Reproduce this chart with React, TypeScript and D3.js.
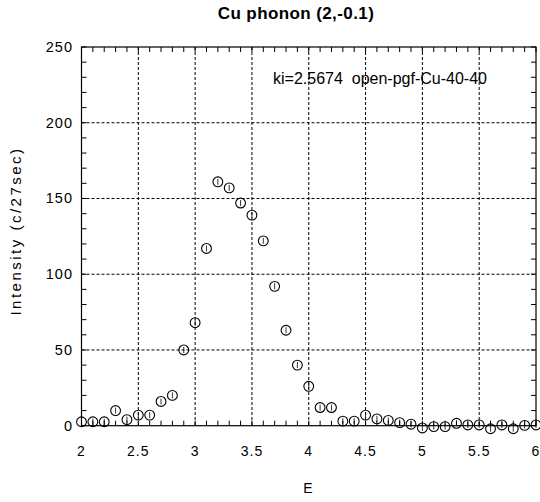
import React from "react";
import * as d3 from "d3";

const energies = [2.0,2.1,2.2,2.3,2.4,2.5,2.6,2.7,2.8,2.9,3.0,3.1,3.2,3.3,3.4,3.5,3.6,3.7,3.8,3.9,4.0,4.1,4.2,4.3,4.4,4.5,4.6,4.7,4.8,4.9,5.0,5.1,5.2,5.3,5.4,5.5,5.6,5.7,5.8,5.9,6.0];
const intensities = [2.6,2.6,2.6,10,4,7,7,16,20,50,68,117,161,157,147,139,122,92,63,40,26,12,12,3,3,7,4.5,3.5,2,1,-1.5,-0.6,-0.6,1.6,0.5,0.5,-2,0.5,-2,0.2,0.5];
const xTicks = [2,2.5,3,3.5,4,4.5,5,5.5,6];
const xTickLabels = ["2","2.5","3","3.5","4","4.5","5","5.5","6"];
const yTicks = [0,50,100,150,200,250];

const W = 540, H = 502;
const left = 81.5, right = 536, top = 47, bottom = 425.7;

export default function App() {
  const x = d3.scaleLinear().domain([2, 6]).range([left, right]);
  const y = d3.scaleLinear().domain([0, 250]).range([bottom, top]);
  const minorX = d3.range(2, 6.0001, 0.1);
  const minorY = d3.range(0, 250.001, 10);
  const font = "'Liberation Sans', Arial, sans-serif";
  return (
    <svg width={W} height={H} style={{ position: "absolute", left: 0, top: 0, background: "#fff" }}>
      <text x={296} y={19} textAnchor="middle" fontFamily={font} fontWeight="bold" fontSize={17} letterSpacing={0.4}>Cu phonon (2,-0.1)</text>
      {/* grid */}
      {xTicks.slice(1, -1).map((t) => (
        <line key={"gx" + t} x1={x(t)} x2={x(t)} y1={top} y2={bottom} stroke="#000" strokeWidth={1} strokeDasharray="3,2" />
      ))}
      {yTicks.slice(1, -1).map((t) => (
        <line key={"gy" + t} x1={left} x2={right} y1={y(t)} y2={y(t)} stroke="#000" strokeWidth={1} strokeDasharray="3,2" />
      ))}
      {/* minor ticks */}
      {minorX.map((t, i) => (
        <g key={"mx" + i}>
          <line x1={x(t)} x2={x(t)} y1={bottom} y2={bottom - 5} stroke="#000" />
          <line x1={x(t)} x2={x(t)} y1={top} y2={top + 5} stroke="#000" />
        </g>
      ))}
      {minorY.map((t, i) => (
        <g key={"my" + i}>
          <line x1={left} x2={left + 5} y1={y(t)} y2={y(t)} stroke="#000" />
          <line x1={right} x2={right - 5} y1={y(t)} y2={y(t)} stroke="#000" />
        </g>
      ))}
      <rect x={left} y={top} width={right - left} height={bottom - top} fill="none" stroke="#000" strokeWidth={1.2} />
      {/* tick labels */}
      {xTicks.map((t, i) => (
        <text key={"xl" + t} x={x(t)} y={456} textAnchor="middle" fontFamily={font} fontSize={14} letterSpacing={1}>{xTickLabels[i]}</text>
      ))}
      {yTicks.map((t) => (
        <text key={"yl" + t} x={73} y={y(t) + 5} textAnchor="end" fontFamily={font} fontSize={14.5} letterSpacing={1}>{t}</text>
      ))}
      <text x={308} y={493} textAnchor="middle" fontFamily={font} fontSize={14}>E</text>
      <text transform={`translate(21,${231}) rotate(-90)`} textAnchor="middle" fontFamily={font} fontSize={15} letterSpacing={2.5}>Intensity (c/27sec)</text>
      <text x={273} y={84} fontFamily={font} fontSize={16} style={{ whiteSpace: "pre" }}>{"ki=2.5674  open-pgf-Cu-40-40"}</text>
      {/* data */}
      {energies.map((e, i) => (
        <g key={"p" + i}>
          <line x1={x(e)} x2={x(e)} y1={y(intensities[i]) - 3} y2={y(intensities[i]) + 3} stroke="#000" strokeWidth={0.8} />
          <circle cx={x(e)} cy={y(intensities[i])} r={4.9} fill="none" stroke="#000" strokeWidth={1.1} />
        </g>
      ))}
    </svg>
  );
}
